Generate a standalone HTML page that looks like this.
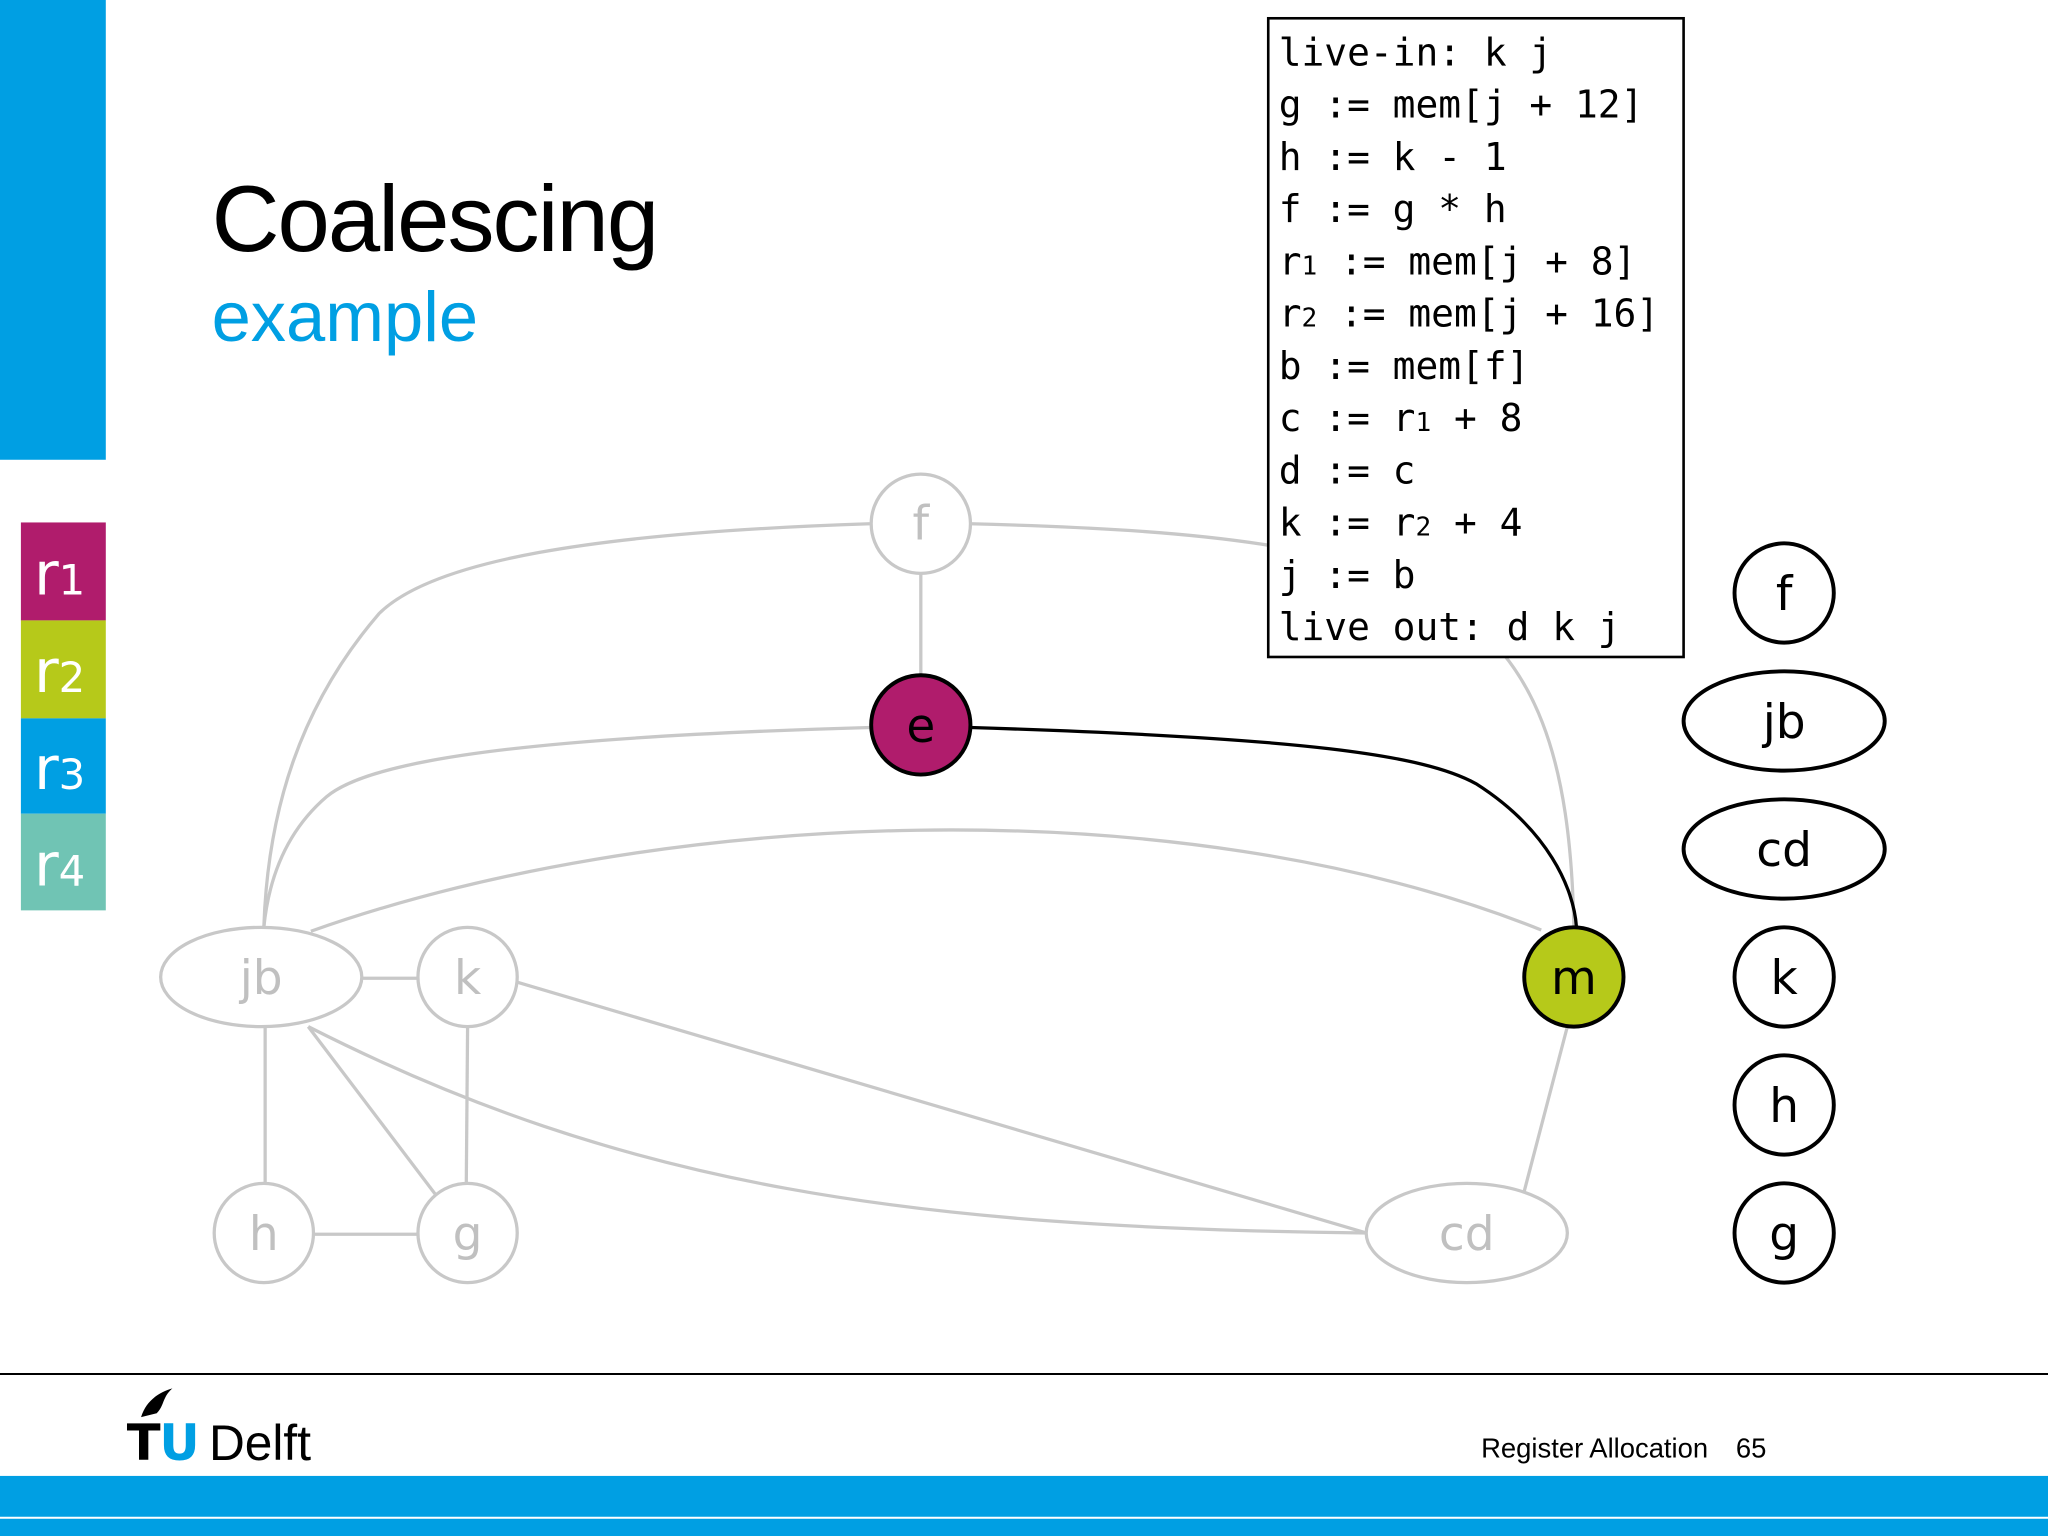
<!DOCTYPE html>
<html><head><meta charset="utf-8"><style>
html,body{margin:0;padding:0;background:#fff;}
svg{display:block;}
</style></head><body>
<svg width="2048" height="1536" viewBox="0 0 1568 1176" xmlns="http://www.w3.org/2000/svg">
<rect width="1568" height="1176" fill="#fff"/>
<rect x="0" y="0" width="81" height="352" fill="#009fe3"/>
<text x="162" y="192" font-family="Liberation Sans, sans-serif" font-size="72" letter-spacing="-1.5" fill="#000">Coalescing</text>
<text x="162" y="261" font-family="Liberation Sans, sans-serif" font-size="54" fill="#009fe3">example</text>
<g font-family="DejaVu Sans, Liberation Sans, sans-serif" fill="#fff">
<rect x="16" y="400" width="65" height="75" fill="#b01c6c"/>
<rect x="16" y="475" width="65" height="75" fill="#b6c91a"/>
<rect x="16" y="550" width="65" height="73" fill="#009fe3"/>
<rect x="16" y="623" width="65" height="74" fill="#70c4b4"/>
<text x="26" y="455" font-size="46">r<tspan font-size="32">1</tspan></text>
<text x="26" y="530" font-size="46">r<tspan font-size="32">2</tspan></text>
<text x="26" y="604" font-size="46">r<tspan font-size="32">3</tspan></text>
<text x="26" y="678" font-size="46">r<tspan font-size="32">4</tspan></text>
</g>
<g fill="none" stroke="#c8c8c8" stroke-width="2.5">
<line x1="705" y1="439" x2="705" y2="517"/>
<path d="M666,401 C450,408 330,430 290,470 C230,540 205,620 202,710"/>
<path d="M743,401 C1100,410 1200,450 1205,710"/>
<path d="M666,557 C380,565 280,585 250,610 C215,640 205,680 202,710"/>
<path d="M238,713 C500,620 900,600 1180,712"/>
<line x1="277" y1="749" x2="320" y2="749"/>
<line x1="203" y1="786" x2="203" y2="906"/>
<line x1="236" y1="786" x2="333" y2="914"/>
<path d="M236,786 C480,910 700,940 1046,944"/>
<line x1="358" y1="786" x2="357" y2="906"/>
<line x1="396" y1="752" x2="1046" y2="944"/>
<line x1="240" y1="945" x2="320" y2="945"/>
<line x1="1200" y1="786" x2="1167" y2="912"/>
</g>
<path d="M743,557 C1000,565 1090,578 1130,600 C1185,635 1205,680 1207,710" fill="none" stroke="#000" stroke-width="2.5"/>
<g stroke="#c8c8c8" stroke-width="2.5" fill="#fff">
<circle cx="705" cy="401" r="38"/>
<ellipse cx="200" cy="748" rx="77" ry="38"/>
<circle cx="358" cy="748" r="38"/>
<circle cx="202" cy="944" r="38"/>
<circle cx="358" cy="944" r="38"/>
<ellipse cx="1123" cy="944" rx="77" ry="38"/>
</g>
<circle cx="705" cy="555" r="38" fill="#b01c6c" stroke="#000" stroke-width="3"/>
<circle cx="1205" cy="748" r="38" fill="#b6c91a" stroke="#000" stroke-width="3"/>
<g font-family="DejaVu Sans, Liberation Sans, sans-serif" font-size="36" text-anchor="middle" fill="#c0c0c0">
<text x="705" y="413">f</text>
<text x="200" y="761">jb</text>
<text x="358" y="761">k</text>
<text x="202" y="957">h</text>
<text x="358" y="957">g</text>
<text x="1123" y="957">cd</text>
<text x="705" y="568" fill="#000">e</text>
<text x="1205" y="761" fill="#000">m</text>
</g>
<rect x="971" y="14" width="318" height="489" fill="#fff" stroke="#000" stroke-width="2"/>
<g font-family="DejaVu Sans Mono, Liberation Mono, monospace" font-size="29" fill="#000">
<text x="979" y="50">live-in: k j</text>
<text x="979" y="90">g := mem[j + 12]</text>
<text x="979" y="130">h := k - 1</text>
<text x="979" y="170">f := g * h</text>
<text x="979" y="210">r<tspan font-size="20">1</tspan> := mem[j + 8]</text>
<text x="979" y="250">r<tspan font-size="20">2</tspan> := mem[j + 16]</text>
<text x="979" y="290">b := mem[f]</text>
<text x="979" y="330">c := r<tspan font-size="20">1</tspan> + 8</text>
<text x="979" y="370">d := c</text>
<text x="979" y="410">k := r<tspan font-size="20">2</tspan> + 4</text>
<text x="979" y="450">j := b</text>
<text x="979" y="490">live out: d k j</text>
</g>
<g stroke="#000" stroke-width="3" fill="#fff">
<circle cx="1366" cy="454" r="38"/>
<ellipse cx="1366" cy="552" rx="77" ry="38"/>
<ellipse cx="1366" cy="650" rx="77" ry="38"/>
<circle cx="1366" cy="748" r="38"/>
<circle cx="1366" cy="846" r="38"/>
<circle cx="1366" cy="944" r="38"/>
</g>
<g font-family="DejaVu Sans, Liberation Sans, sans-serif" font-size="36" text-anchor="middle" fill="#000">
<text x="1366" y="467">f</text>
<text x="1366" y="565">jb</text>
<text x="1366" y="663">cd</text>
<text x="1366" y="761">k</text>
<text x="1366" y="859">h</text>
<text x="1366" y="957">g</text>
</g>
<line x1="0" y1="1052" x2="1568" y2="1052" stroke="#000" stroke-width="1.5"/>
<path d="M108,1085 C112,1072 122,1066 132,1063 C124,1070 126,1076 120,1082 Z" fill="#000"/>
<text x="97" y="1118" font-family="DejaVu Sans, Liberation Sans, sans-serif" font-size="38" font-weight="bold" fill="#000">T</text>
<text x="122" y="1118" font-family="DejaVu Sans, Liberation Sans, sans-serif" font-size="38" font-weight="bold" fill="#009fe3">U</text>
<text x="160" y="1118" font-family="Liberation Sans, sans-serif" font-size="38" fill="#000">Delft</text>
<text x="1134" y="1116" font-family="Liberation Sans, sans-serif" font-size="21" fill="#000">Register Allocation</text>
<text x="1329" y="1116" font-family="Liberation Sans, sans-serif" font-size="21" fill="#000">65</text>
<rect x="0" y="1130" width="1568" height="46" fill="#009fe3"/>
<line x1="0" y1="1162" x2="1568" y2="1162" stroke="#fff" stroke-width="1.5"/>
</svg>
</body></html>
